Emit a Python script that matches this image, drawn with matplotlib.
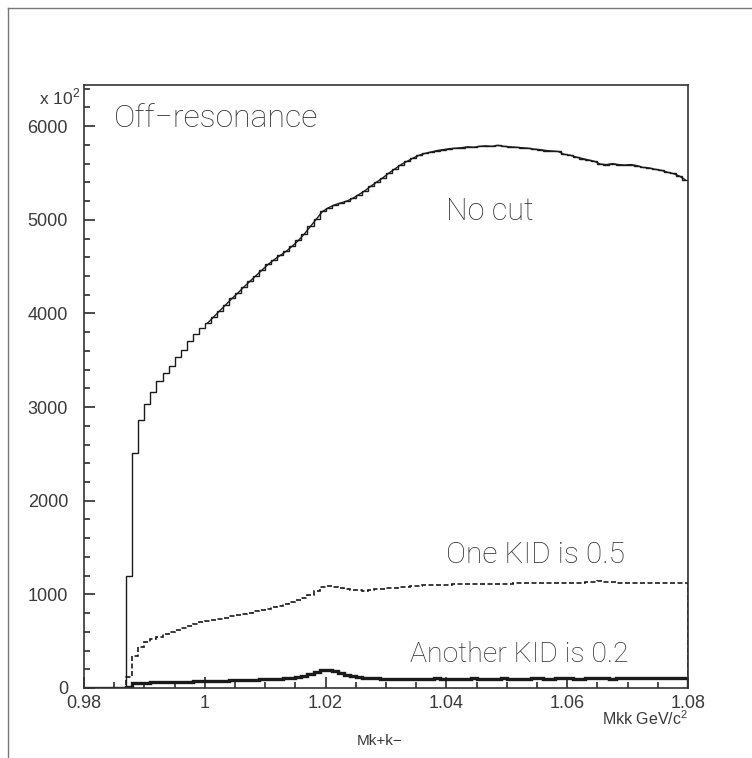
import numpy as np
import matplotlib
matplotlib.use("Agg")
import matplotlib.pyplot as plt
from matplotlib.lines import Line2D
from matplotlib.ticker import MultipleLocator

# K+K- invariant mass, 1 MeV bins from 0.98 to 1.08 GeV/c^2 (counts in units of 10^2)
edges = np.round(np.arange(0.980, 1.0805, 0.001), 3)

no_cut = [
    0, 0, 0, 0, 0, 0, 0, 1200, 2515, 2860,
    3030, 3160, 3275, 3360, 3440, 3535, 3615, 3705, 3780, 3840,
    3900, 3965, 4030, 4095, 4160, 4220, 4285, 4345, 4405, 4465,
    4525, 4575, 4620, 4665, 4720, 4780, 4850, 4930, 5010, 5090,
    5130, 5160, 5180, 5200, 5230, 5270, 5310, 5360, 5405, 5450,
    5500, 5545, 5590, 5625, 5660, 5690, 5710, 5725, 5740, 5750,
    5760, 5765, 5770, 5780, 5775, 5785, 5790, 5785, 5795, 5785,
    5780, 5775, 5770, 5765, 5755, 5750, 5740, 5735, 5730, 5700,
    5690, 5670, 5655, 5640, 5625, 5595, 5590, 5600, 5590, 5585,
    5590, 5580, 5560, 5555, 5540, 5530, 5510, 5495, 5470, 5430,
]

kid_05 = [
    0, 0, 0, 0, 0, 0, 0, 120, 340, 435,
    490, 520, 548, 575, 600, 620, 640, 660, 680, 700,
    718, 730, 742, 752, 765, 778, 790, 805, 818, 832,
    848, 862, 878, 895, 915, 938, 965, 995, 1035, 1080,
    1092, 1080, 1068, 1058, 1048, 1042, 1040, 1045, 1052, 1058,
    1065, 1072, 1078, 1083, 1088, 1092, 1095, 1098, 1100, 1102,
    1104, 1106, 1108, 1110, 1110, 1112, 1112, 1114, 1115, 1115,
    1116, 1117, 1118, 1118, 1119, 1120, 1120, 1121, 1122, 1122,
    1124, 1125, 1126, 1128, 1130, 1140, 1132, 1128, 1126, 1125,
    1124, 1124, 1123, 1122, 1122, 1120, 1120, 1118, 1120, 1125,
]

kid_02 = [
    0, 0, 0, 0, 0, 0, 0, 14, 52, 56,
    58, 60, 61, 62, 63, 65, 67, 69, 71, 73,
    75, 77, 78, 80, 82, 84, 86, 88, 90, 91,
    93, 96, 100, 104, 110, 118, 130, 150, 172, 190,
    195, 185, 160, 140, 125, 115, 108, 104, 102, 101,
    100, 100, 100, 101, 101, 100, 100, 101, 102, 101,
    100, 100, 101, 101, 102, 101, 100, 100, 101, 102,
    101, 101, 100, 101, 102, 102, 101, 101, 102, 103,
    102, 101, 101, 102, 102, 103, 102, 101, 102, 103,
    103, 102, 102, 103, 104, 103, 102, 103, 104, 105,
]

x_ticks = [0.98, 1.0, 1.02, 1.04, 1.06, 1.08]
x_ticklabels = ["0.98", "1", "1.02", "1.04", "1.06", "1.08"]
y_ticks = [0, 1000, 2000, 3000, 4000, 5000, 6000]

label_font = "Liberation Sans"
label_color = "#3a3a3a"
thin = dict(family=["Roboto", "DejaVu Sans"], weight="light", color="#303030")
ink = "#1a1a1a"

plt.rcParams["mathtext.fontset"] = "custom"
plt.rcParams["mathtext.rm"] = label_font

fig = plt.figure(figsize=(7.52, 7.58), dpi=100)
ax = fig.add_axes([84 / 752, 70 / 758, 604 / 752, 603 / 758])

centers = (edges[:-1] + edges[1:]) / 2

ax.stairs(no_cut, edges, color=ink, lw=1.0)
# smooth curve over the histogram above 1.0
sel = centers > 0.9995
ax.plot(centers[sel], np.array(no_cut)[sel], color=ink, lw=1.0)
ax.stairs(kid_05, edges, color=ink, lw=1.2, linestyle=(0, (3, 1.5)))
ax.stairs(kid_02, edges, color=ink, lw=2.4)

ax.set_xlim(0.98, 1.08)
ax.set_ylim(0, 6440)
ax.set_xticks(x_ticks)
ax.set_xticklabels(x_ticklabels)
ax.set_yticks(y_ticks)
ax.xaxis.set_minor_locator(MultipleLocator(0.005))
ax.yaxis.set_minor_locator(MultipleLocator(200))
ax.tick_params(which="both", direction="in", top=False, right=False,
               colors=ink, labelcolor=label_color, width=1.1)
ax.tick_params(which="major", length=8, labelsize=13, pad=5)
ax.tick_params(which="minor", length=4)
ax.tick_params(axis="y", pad=11.5)
for lab in ax.get_xticklabels() + ax.get_yticklabels():
    lab.set_family(label_font)
for side in ax.spines.values():
    side.set_color("#333333")
    side.set_linewidth(1.2)

ax.text(0.049, 0.968, "Off\u2212resonance", transform=ax.transAxes,
        fontsize=23, va="top", ha="left", **thin)
ax.text(0.600, 0.790, "No cut", transform=ax.transAxes,
        fontsize=22, va="center", ha="left", **thin)
ax.text(0.600, 0.220, "One KID is 0.5", transform=ax.transAxes,
        fontsize=21.5, va="center", ha="left", **thin)
ax.text(0.540, 0.056, "Another KID is 0.2", transform=ax.transAxes,
        fontsize=20.5, va="center", ha="left", **thin)

fig.text(80 / 752, 1 - 97 / 758, r"x 10$^{2}$", ha="right", va="center",
         fontsize=12.5, family=label_font, color=label_color)
fig.text(688 / 752, 1 - 719 / 758, r"Mkk GeV/c$^{2}$", ha="right", va="center",
         fontsize=11.5, family=label_font, color=label_color)
fig.text(380 / 752, 1 - 741 / 758, "Mk+k\u2212", ha="center", va="center",
         fontsize=11, family=label_font, color=label_color)

# page border along the top and left
fig.add_artist(Line2D([8 / 752, 1.0], [1 - 8 / 758, 1 - 8 / 758],
                      transform=fig.transFigure, color="#777777", lw=1.0))
fig.add_artist(Line2D([8 / 752, 8 / 752], [0.0, 1 - 8 / 758],
                      transform=fig.transFigure, color="#777777", lw=1.0))

fig.savefig("out.png", dpi=100)
